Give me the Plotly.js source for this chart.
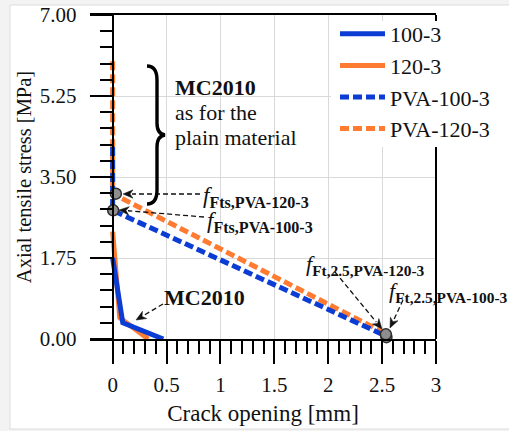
<!DOCTYPE html>
<html><head><meta charset="utf-8">
<script src="https://cdn.plot.ly/plotly-3.0.1.min.js"></script>
<style>html,body{margin:0;padding:0;background:#f3f3f3}</style>
</head><body><div id="chart" style="width:509px;height:431px"></div>
<script>
// ---- data ----
const mc100X = [0, 0.094, 0.47];
const mc100Y = [1.75, 0.35, 0];
const mc120X = [0, 0.066, 0.33];
const mc120Y = [2.32, 0.46, 0];
const pva100X = [0, 0, 2.53];
const pva100Y = [4.15, 2.78, 0.07];
const pva120X = [0, 0, 2.53];
const pva120Y = [6.0, 3.14, 0.12];
const keyPointX = [0.03, 0.005, 2.54, 2.535];
const keyPointY = [3.14, 2.78, 0.04, 0.1];
const yTickVals = [0, 1.75, 3.5, 5.25, 7];
const yTickText = ['0.00', '1.75', '3.50', '5.25', '7.00'];
const xTickVals = [0, 0.5, 1, 1.5, 2, 2.5, 3];
const xTickText = ['0', '0.5', '1', '1.5', '2', '2.5', '3'];

// ---- styling / geometry ----
const FONT = "'Liberation Serif', 'Times New Roman', serif";
const BLUE = '#0b3dd4';
const ORANGE = '#ff7b31';
const M = {l: 90, r: 73, t: 15, b: 92};
const PW = 509 - M.l - M.r, PH = 431 - M.t - M.b;
const pxX = px => (px - M.l) / PW;
const pxY = py => (M.t + PH - py) / PH;
const xMin = -0.21, xMax = 3;

const xMinor = [];
for (let i = 1; i <= 29; i++) { if (i % 5 !== 0) xMinor.push(i / 10); }
const yMinor = [];
for (let i = 1; i <= 19; i++) { if (i % 5 !== 0) yMinor.push(Math.round(i * 35) / 100); }

const traces = [
  {x: mc120X, y: mc120Y, name: '120-3', mode: 'lines', legendrank: 2, legendgroup: 'b',
   line: {color: ORANGE, width: 5}},
  {x: mc100X, y: mc100Y, name: '100-3', mode: 'lines', legendrank: 1, legendgroup: 'a',
   line: {color: BLUE, width: 5}},
  {x: pva120X, y: pva120Y, name: 'PVA-120-3', mode: 'lines', legendrank: 4, legendgroup: 'd',
   line: {color: ORANGE, width: 5, dash: '9px,4px'}},
  {x: pva100X, y: pva100Y, name: 'PVA-100-3', mode: 'lines', legendrank: 3, legendgroup: 'c',
   line: {color: BLUE, width: 5, dash: '9px,4px'}},
  {x: keyPointX, y: keyPointY, mode: 'markers', showlegend: false, cliponaxis: false,
   marker: {size: 11, color: '#8e8e8e', line: {color: '#2e2e2e', width: 1.5}}}
];

// annotation texts (left edge px, centre px)
const labels = [
  {px: 173, py: 87, text: '<b>MC2010</b>', size: 22},
  {px: 173, py: 112, text: 'as for the', size: 22},
  {px: 173, py: 137, text: 'plain material', size: 22},
  {px: 201, py: 197, text: '<i>f</i><sub><b>Fts,PVA-120-3</b></sub>', size: 23},
  {px: 205, py: 222, text: '<i>f</i><sub><b>Fts,PVA-100-3</b></sub>', size: 23},
  {px: 162, py: 297, text: '<b>MC2010</b>', size: 22},
  {px: 304, py: 265, text: '<i>f</i><sub><b>Ft,2.5,PVA-120-3</b></sub>', size: 22},
  {px: 387, py: 292, text: '<i>f</i><sub><b>Ft,2.5,PVA-100-3</b></sub>', size: 22}
];
// dashed leader arrows: tail px -> tip px
const arrows = [
  [200, 194, 123, 194],
  [204, 217, 119, 210],
  [163, 304, 136, 320],
  [335, 272, 382, 329],
  [403, 300, 390, 328]
];

const annotations = labels.map(l => ({
  xref: 'paper', yref: 'paper', x: pxX(l.px), y: pxY(l.py), xanchor: 'left', yanchor: 'middle',
  text: l.text, showarrow: false, font: {family: FONT, size: l.size, color: '#111'}
}));
const P = (x, y) => pxX(x).toFixed(5) + ',' + pxY(y).toFixed(5);
const shapes = [
  {type: 'rect', xref: 'paper', yref: 'paper', x0: pxX(10), x1: pxX(512), y0: pxY(429), y1: pxY(5),
   fillcolor: '#ffffff', line: {color: '#dcdcdc', width: 1}, layer: 'below'},
  {type: 'line', xref: 'paper', yref: 'paper', x0: 1, x1: 1, y0: 0, y1: 1,
   line: {color: '#000', width: 2}, layer: 'above'},
  // white box behind the legend (hides grid and frame there)
  {type: 'rect', xref: 'paper', yref: 'paper', x0: pxX(331), x1: pxX(512), y0: pxY(147), y1: pxY(21),
   fillcolor: '#ffffff', line: {width: 0}, layer: 'above'}
];
arrows.forEach(a => {
  const [tx, ty, hx, hy] = a;
  const len = Math.hypot(tx - hx, ty - hy);
  const ux = (tx - hx) / len, uy = (ty - hy) / len;
  const L = 10, Wd = 4.2;
  shapes.push({type: 'line', xref: 'paper', yref: 'paper', x0: pxX(tx), y0: pxY(ty),
    x1: pxX(hx + ux * (L - 1)), y1: pxY(hy + uy * (L - 1)), line: {color: '#111', width: 1.3, dash: '5px,3px'}, layer: 'above'});
  const bxp = hx + ux * L, byp = hy + uy * L;
  shapes.push({type: 'path', xref: 'paper', yref: 'paper', layer: 'above',
    path: 'M' + P(hx, hy) + ' L' + P(bxp - uy * Wd, byp + ux * Wd) + ' L' + P(hx + ux * (L - 3), hy + uy * (L - 3)) +
      ' L' + P(bxp + uy * Wd, byp - ux * Wd) + ' Z',
    fillcolor: '#111', line: {color: '#111', width: 0.5}});
});
// curly brace
const bx = [147, 157, 165], by = [66, 135, 204];
const bracePath = 'M' + P(bx[0], by[0]) +
  ' Q' + P(bx[1], by[0]) + ' ' + P(bx[1], by[0] + 14) +
  ' L' + P(bx[1], by[1] - 12) +
  ' Q' + P(bx[1], by[1] - 1) + ' ' + P(bx[2], by[1]) +
  ' Q' + P(bx[1], by[1] + 1) + ' ' + P(bx[1], by[1] + 12) +
  ' L' + P(bx[1], by[2] - 14) +
  ' Q' + P(bx[1], by[2]) + ' ' + P(bx[0], by[2]);
shapes.push({type: 'path', xref: 'paper', yref: 'paper', path: bracePath,
  line: {color: '#000', width: 3.4}, layer: 'above'});

const layout = {
  width: 509, height: 431, margin: M,
  paper_bgcolor: '#f3f3f3', plot_bgcolor: 'rgba(0,0,0,0)',
  font: {family: FONT, size: 21, color: '#111'},
  showlegend: true,
  legend: {x: pxX(335), y: pxY(13), xanchor: 'left', yanchor: 'top', bgcolor: 'rgba(0,0,0,0)',
    font: {family: FONT, size: 22, color: '#111'}, tracegroupgap: 5.5, itemwidth: 45, traceorder: 'normal'},
  xaxis: {range: [xMin, xMax], tickmode: 'array', tickvals: xTickVals, ticktext: xTickText,
    ticks: 'outside', ticklen: 23, tickwidth: 2, tickcolor: '#000', ticklabelstandoff: 3,
    minor: {tickmode: 'array', tickvals: xMinor, ticks: 'outside', ticklen: 13, tickwidth: 2, tickcolor: '#000', showgrid: false},
    showline: true, linewidth: 2, linecolor: '#000', mirror: true, zeroline: false,
    showgrid: true, gridcolor: '#d9d9d9', gridwidth: 1,
    tickfont: {family: FONT, size: 21, color: '#111'},
    title: {text: 'Crack opening [mm]', font: {family: FONT, size: 23, color: '#111'}, standoff: 9}},
  yaxis: {range: [0, 7], anchor: 'free', position: pxX(112.6), tickmode: 'array', tickvals: yTickVals, ticktext: yTickText,
    ticks: 'outside', ticklen: 22, tickwidth: 2, tickcolor: '#000', ticklabelstandoff: 9,
    minor: {tickmode: 'array', tickvals: yMinor, ticks: 'outside', ticklen: 12, tickwidth: 2, tickcolor: '#000', showgrid: false},
    showline: true, linewidth: 2, linecolor: '#000', zeroline: false,
    showgrid: true, gridcolor: '#d9d9d9', gridwidth: 1,
    tickfont: {family: FONT, size: 21, color: '#111'},
    title: {text: 'Axial tensile stress [MPa]', font: {family: FONT, size: 20.5, color: '#111'}, standoff: 1}},
  annotations: annotations,
  shapes: shapes
};

Plotly.newPlot('chart', traces, layout, {displayModeBar: false, staticPlot: true});
</script>
</body></html>
